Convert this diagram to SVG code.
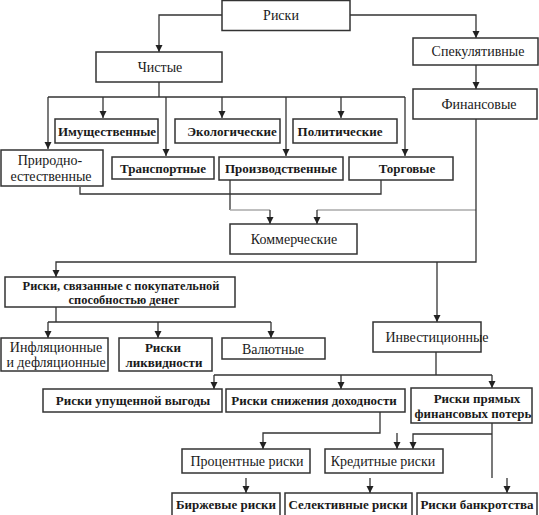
<svg xmlns="http://www.w3.org/2000/svg" width="539" height="515" viewBox="0 0 539 515" font-family="Liberation Serif, Times New Roman, serif">
<style>
.b{fill:#fff;stroke:#333;stroke-width:1.5}
.t{font-size:14px;fill:#1a1a1a;text-anchor:middle}
.s{font-size:13px;font-weight:bold}
.c{fill:none;stroke:#333;stroke-width:1.3}
.f{fill:none;stroke:#aaa;stroke-width:1.3}
</style>
<defs>
<marker id="a" markerUnits="userSpaceOnUse" markerWidth="8" markerHeight="8" refX="7" refY="4" orient="auto">
<path d="M0,0.5 L7,4 L0,7.5 Z" fill="#222"/>
</marker>
</defs>
<rect width="539" height="515" fill="#fff"/>
<g id="connectors">
<path class="c" d="M222,15 H159 V52" marker-end="url(#a)"/>
<path class="c" d="M350,15 H476 V38" marker-end="url(#a)"/>
<path class="c" d="M476,65 V89" marker-end="url(#a)"/>
<path class="c" d="M159,82 V97 M48,97 H405"/>
<path class="c" d="M48,97 V149" marker-end="url(#a)"/>
<path class="c" d="M103,97 V118" marker-end="url(#a)"/>
<path class="c" d="M166,97 V156" marker-end="url(#a)"/>
<path class="c" d="M222,97 V118" marker-end="url(#a)"/>
<path class="c" d="M286,97 V156" marker-end="url(#a)"/>
<path class="c" d="M341,97 V118" marker-end="url(#a)"/>
<path class="c" d="M405,97 V156" marker-end="url(#a)"/>
<path class="c" d="M80,187 V194 H381 V180"/>
<path class="c" d="M230,180 V210"/>
<path class="f" d="M230,210 H270"/>
<path class="c" d="M270,210 V224" marker-end="url(#a)"/>
<path class="f" d="M476,210 H317"/>
<path class="c" d="M317,210 V224" marker-end="url(#a)"/>
<path class="c" d="M476,119 V262 H56 V277" marker-end="url(#a)"/>
<path class="c" d="M437,262 V322" marker-end="url(#a)"/>
<path class="c" d="M56,307 V322 M48,322 H271"/>
<path class="c" d="M48,322 V338" marker-end="url(#a)"/>
<path class="c" d="M158,322 V338" marker-end="url(#a)"/>
<path class="c" d="M271,322 V338" marker-end="url(#a)"/>
<path class="c" d="M436,352 V375 M214,375 H492"/>
<path class="c" d="M214,375 V389" marker-end="url(#a)"/>
<path class="c" d="M341,375 V389" marker-end="url(#a)"/>
<path class="c" d="M492,375 V388" marker-end="url(#a)"/>
<path class="c" d="M380,412 V433 H263 V449" marker-end="url(#a)"/>
<path class="c" d="M397,433 V449" marker-end="url(#a)"/>
<path class="c" d="M492,423 V478 M492,434 H413 V449" marker-end="url(#a)"/>
<path class="c" d="M246,478 V493" marker-end="url(#a)"/>
<path class="c" d="M370,478 V493" marker-end="url(#a)"/>
<path class="c" d="M507,478 V493" marker-end="url(#a)"/>
</g>
<g id="riski"><rect class="b" x="222" y="0.5" width="128" height="30"/><text class="t" x="281" y="20">Риски</text></g>
<g id="spek"><rect class="b" x="413" y="38" width="125" height="27"/><text class="t" x="478" y="56">Спекулятивные</text></g>
<g id="fin"><rect class="b" x="413" y="89" width="124" height="30"/><text class="t" x="479" y="109">Финансовые</text></g>
<g id="chist"><rect class="b" x="96" y="52" width="126" height="30"/><text class="t" x="160" y="72">Чистые</text></g>
<g id="imush"><rect class="b" x="55" y="119" width="103" height="24"/><text class="t s" x="107" y="136">Имущественные</text></g>
<g id="ekol"><rect class="b" x="175" y="119" width="105" height="24"/><text class="t s" x="232" y="136">Экологические</text></g>
<g id="polit"><rect class="b" x="293" y="119" width="104" height="24"/><text class="t s" x="340" y="136">Политические</text></g>
<g id="prir"><rect class="b" x="1" y="150" width="102" height="36"/><text class="t" x="50" y="165">Природно-</text><text class="t" x="51" y="181">естественные</text></g>
<g id="transp"><rect class="b" x="112" y="157" width="102" height="22"/><text class="t s" x="163" y="173">Транспортные</text></g>
<g id="proizv"><rect class="b" x="219" y="157" width="124" height="23"/><text class="t s" x="281" y="173">Производственные</text></g>
<g id="torg"><rect class="b" x="349" y="157" width="104" height="23"/><text class="t s" x="407" y="173">Торговые</text></g>
<g id="komm"><rect class="b" x="230" y="224" width="127" height="30"/><text class="t" x="294" y="244">Коммерческие</text></g>
<g id="pokup"><rect class="b" x="5" y="277" width="230" height="30"/><text class="t s" x="121" y="290" style="font-size:12.4px">Риски, связанные с покупательной</text><text class="t s" x="124" y="304" style="font-size:12.4px">способностью денег</text></g>
<g id="infl"><rect class="b" x="1" y="338" width="107" height="33"/><text class="t" x="56" y="352">Инфляционные</text><text class="t" x="56" y="367">и дефляционные</text></g>
<g id="likv"><rect class="b" x="119" y="338" width="93" height="33"/><text class="t s" x="163" y="352">Риски</text><text class="t s" x="164" y="367">ликвидности</text></g>
<g id="val"><rect class="b" x="222" y="338" width="103" height="21"/><text class="t" x="273" y="354">Валютные</text></g>
<g id="invest"><rect class="b" x="373" y="322" width="108" height="30"/><text class="t" x="437" y="342">Инвестиционные</text></g>
<g id="upush"><rect class="b" x="43" y="389" width="179" height="23"/><text class="t s" x="133" y="405">Риски упущенной выгоды</text></g>
<g id="snizh"><rect class="b" x="226" y="389" width="179" height="23"/><text class="t s" x="314" y="405">Риски снижения доходности</text></g>
<g id="pryam"><rect class="b" x="411" y="388" width="121" height="35"/><text class="t s" x="477" y="403">Риски прямых</text><text class="t s" x="473" y="418">финансовых потерь</text></g>
<g id="proc"><rect class="b" x="182" y="449" width="128" height="24"/><text class="t" x="247" y="466">Процентные риски</text></g>
<g id="kred"><rect class="b" x="325" y="449" width="118" height="24"/><text class="t" x="383" y="466">Кредитные риски</text></g>
<g id="birzh"><rect class="b" x="172" y="493" width="108" height="24"/><text class="t s" x="226" y="509">Биржевые риски</text></g>
<g id="selekt"><rect class="b" x="285" y="493" width="127" height="24"/><text class="t s" x="348" y="509">Селективные риски</text></g>
<g id="bankr"><rect class="b" x="417" y="493" width="120" height="24"/><text class="t s" x="477" y="509">Риски банкротства</text></g>
</svg>
